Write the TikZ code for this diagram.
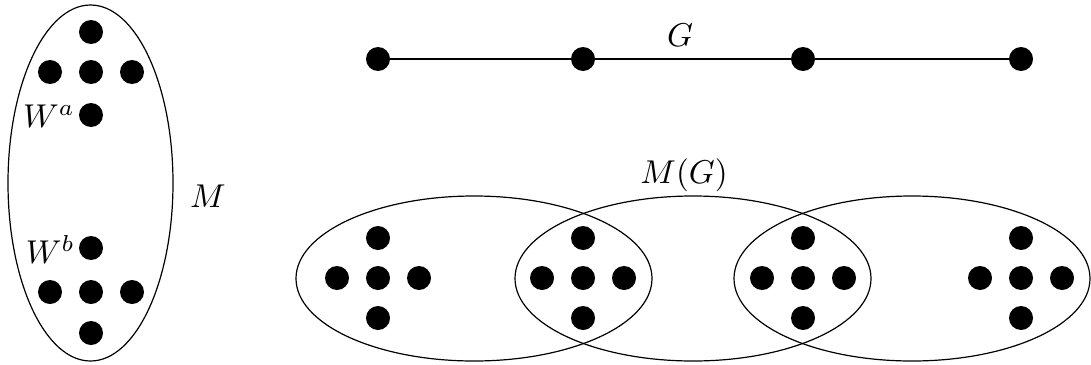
\documentclass[tikz,border=0pt]{standalone}
\usepackage{graphicx}
\usetikzlibrary{shapes.geometric}
\newcommand\bigtxt[1]{\scalebox{3.3}{#1}}
\begin{document}
\begin{tikzpicture}[x=1pt,y=-1pt,
  dot/.style={circle,fill=black,inner sep=0pt,minimum size=24pt},
  blob/.style={ellipse,draw=black,line width=1.2pt,inner sep=0pt},
  bigblob/.style={blob,minimum width=356pt,minimum height=165pt},
  lab/.style={inner sep=0pt},
  edge/.style={line width=1.2pt}]
\useasboundingbox (0,0) rectangle (1091,364);
% left ellipse M
\node[blob,minimum width=165pt,minimum height=356pt] (Mell) at (90.5,183) {};
\foreach \n/\x/\y in {a1/91/32,a2/50/72,a3/91/72,a4/132/72,a5/91/115,
                      b1/91/248,b2/50/292,b3/91/292,b4/132/292,b5/91/333}
  \node[dot] (\n) at (\x,\y) {};
\node[lab,anchor=base east] (Wa) at (75,127) {\bigtxt{$W^a$}};
\node[lab,anchor=base east] (Wb) at (75,263) {\bigtxt{$W^b$}};
\node[lab,anchor=base] (Mlab) at (208,207) {\bigtxt{$M$}};
% graph G
\foreach \i/\x in {1/378,2/583,3/803,4/1021}
  \node[dot] (g\i) at (\x,59) {};
\draw[edge] (g1) -- (g2) -- (g3) -- (g4);
\node[lab,anchor=base] (Glab) at (680,46) {\bigtxt{$G$}};
% M(G)
\node[lab,anchor=base] (MGlab) at (684,183) {\bigtxt{$M(G)$}};
\node[bigblob] (L1) at (474,278.5) {};
\node[bigblob] (L2) at (693,278.5) {};
\node[bigblob] (L3) at (912,278.5) {};
\foreach \c/\x in {1/378,2/583,3/803,4/1021}{
  \node[dot] (c\c t) at (\x,238) {};
  \node[dot] (c\c l) at (\x-41,278) {};
  \node[dot] (c\c m) at (\x,278) {};
  \node[dot] (c\c r) at (\x+41,278) {};
  \node[dot] (c\c b) at (\x,318) {};
}
\end{tikzpicture}
\end{document}
